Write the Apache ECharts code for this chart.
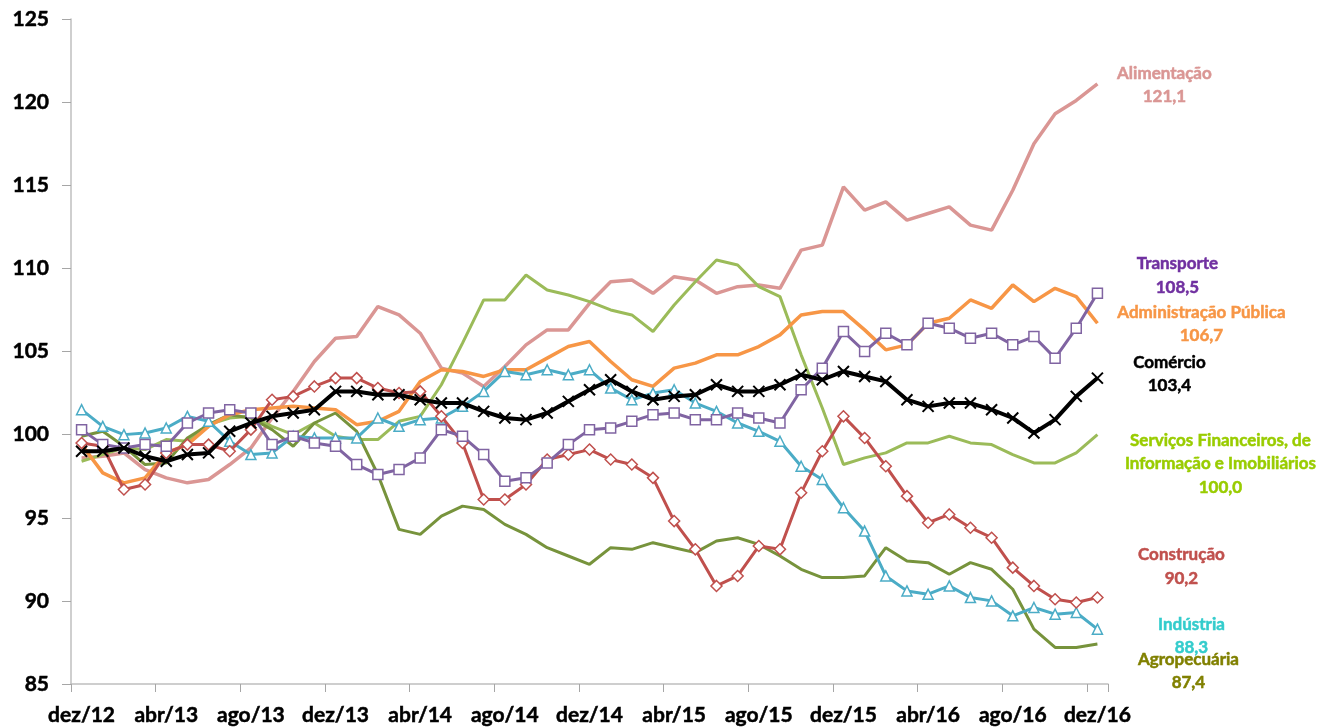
<!DOCTYPE html>
<html>
<head>
<meta charset="utf-8">
<script src="https://cdn.jsdelivr.net/npm/echarts@6/dist/echarts.min.js"></script>
<style>
  html, body { margin: 0; padding: 0; background: #fff; }
  #chart { width: 1328px; height: 728px; }
</style>
</head>
<body>
<div id="chart"></div>
<script>
// Monthly index (dez/12 = 100 basis), dez/12 .. dez/16
const months = ['jan','fev','mar','abr','mai','jun','jul','ago','set','out','nov','dez'];
const categories = ['dez/12'];
for (let y = 13; y <= 16; y++) {
  for (let m = 0; m < 12; m++) categories.push(months[m] + '/' + y);
}

const alimentacao = [98.6,98.7,98.9,97.9,97.4,97.1,97.3,98.2,99.2,101.0,102.6,104.4,105.8,105.9,107.7,107.2,106.1,104.0,103.7,102.9,104.1,105.4,106.3,106.3,107.9,109.2,109.3,108.5,109.5,109.3,108.5,108.9,109.0,108.8,111.1,111.4,114.9,113.5,114.0,112.9,113.3,113.7,112.6,112.3,114.7,117.5,119.3,120.1,121.1];
const transporte = [100.3,99.4,99.2,99.4,99.3,100.7,101.3,101.5,101.3,99.4,99.9,99.5,99.3,98.2,97.6,97.9,98.6,100.3,99.9,98.8,97.2,97.4,98.3,99.4,100.3,100.4,100.8,101.2,101.3,100.9,100.9,101.3,101.0,100.7,102.7,104.0,106.2,105.0,106.1,105.4,106.7,106.4,105.8,106.1,105.4,105.9,104.6,106.4,108.5];
const administracao = [99.4,97.7,97.1,97.4,98.9,99.4,100.5,101.2,101.5,101.6,101.7,101.6,101.5,100.6,100.8,101.4,103.2,103.9,103.8,103.5,103.9,103.9,104.6,105.3,105.6,104.4,103.3,102.9,104.0,104.3,104.8,104.8,105.3,106.0,107.2,107.4,107.4,106.3,105.1,105.4,106.7,107.0,108.1,107.6,109.0,108.0,108.8,108.3,106.7];
const comercio = [99.0,99.0,99.2,98.7,98.4,98.8,98.9,100.2,100.7,101.1,101.3,101.5,102.6,102.6,102.4,102.4,102.1,101.9,101.9,101.4,101.0,100.9,101.3,102.0,102.7,103.3,102.6,102.1,102.3,102.4,103.0,102.6,102.6,103.0,103.6,103.3,103.8,103.5,103.2,102.1,101.7,101.9,101.9,101.5,101.0,100.1,100.9,102.3,103.4];
const servicos = [98.4,98.8,99.2,99.1,99.7,99.6,100.6,101.0,101.1,100.5,100.0,100.7,99.9,99.7,99.7,100.8,101.1,103.0,105.5,108.1,108.1,109.6,108.7,108.4,108.0,107.5,107.2,106.2,107.8,109.2,110.5,110.2,108.9,108.3,104.8,101.6,98.2,98.6,98.9,99.5,99.5,99.9,99.5,99.4,98.8,98.3,98.3,98.9,100.0];
const construcao = [99.5,99.3,96.7,97.0,98.9,99.4,99.4,99.0,100.3,102.1,102.3,102.9,103.4,103.4,102.8,102.5,102.6,101.1,99.5,96.1,96.1,97.0,98.5,98.8,99.1,98.5,98.2,97.4,94.8,93.1,90.9,91.5,93.3,93.1,96.5,99.0,101.1,99.8,98.1,96.3,94.7,95.2,94.4,93.8,92.0,90.9,90.1,89.9,90.2];
const industria = [101.5,100.5,100.0,100.1,100.4,101.1,100.8,99.6,98.8,98.9,99.9,99.8,99.8,99.8,101.0,100.5,100.9,101.0,101.7,102.6,103.8,103.6,103.9,103.6,103.9,102.8,102.1,102.5,102.7,101.9,101.4,100.7,100.2,99.6,98.1,97.3,95.6,94.2,91.5,90.6,90.4,90.9,90.2,90.0,89.1,89.6,89.2,89.3,88.3];
const agropecuaria = [99.9,100.2,99.3,98.2,98.3,99.8,100.6,101.2,101.0,100.3,99.3,100.7,101.3,100.2,97.6,94.3,94.0,95.1,95.7,95.5,94.6,94.0,93.2,92.7,92.2,93.2,93.1,93.5,93.2,92.9,93.6,93.8,93.4,92.7,91.9,91.4,91.4,91.5,93.2,92.4,92.3,91.6,92.3,91.9,90.7,88.3,87.2,87.2,87.4];

const yTicks = { min: 85, max: 125, step: 5 };

const FONT = 'Lato, "Noto Sans", sans-serif';
const crossPath = 'path://M0,0L10,10M10,0L0,10';

function fmt(v) { return v.toFixed(1).replace('.', ','); }

// end-of-line annotation: name and final value, placed beside the last point
function endNote(name, data, color, dx, dy) {
  const last = data.length - 1;
  return {
    symbol: 'circle',
    symbolSize: 1,
    itemStyle: { color: 'rgba(0,0,0,0)' },
    silent: true,
    data: [{ coord: [last, data[last]], value: data[last] }],
    label: {
      show: true,
      position: 'inside',
      offset: [dx, dy],
      formatter: name + '\n' + fmt(data[last]),
      color: color,
      textBorderColor: color,
      textBorderWidth: 0.5,
      fontFamily: FONT,
      fontWeight: 'bold',
      fontSize: 17,
      lineHeight: 23.5,
      align: 'center',
      verticalAlign: 'middle'
    }
  };
}

function lineSeries(opts) {
  return {
    type: 'line',
    name: opts.name,
    data: opts.data,
    smooth: false,
    showSymbol: !!opts.symbol,
    symbol: opts.symbol || 'none',
    symbolSize: opts.symbolSize || 9,
    lineStyle: { color: opts.color, width: opts.width || 3 },
    itemStyle: opts.symbol === crossPath
      ? { color: opts.color, borderColor: opts.color, borderWidth: 2 }
      : { color: '#ffffff', borderColor: opts.color, borderWidth: 1.5 },
    z: opts.z || 2,
    animation: false,
    markPoint: endNote(opts.label, opts.data, opts.textColor, opts.dx, opts.dy)
  };
}

const axisText = {
  color: '#000',
  textBorderColor: '#000',
  textBorderWidth: 0.5,
  fontFamily: FONT,
  fontWeight: 'bold',
  fontSize: 21
};

const chart = echarts.init(document.getElementById('chart'), null, { renderer: 'canvas' });

chart.setOption({
  backgroundColor: '#ffffff',
  animation: false,
  grid: { left: 71, right: 220, top: 19, bottom: 44, containLabel: false },
  xAxis: {
    type: 'category',
    data: categories,
    boundaryGap: true,
    axisLine: { lineStyle: { color: '#BFBFBF', width: 1.5 } },
    axisTick: { show: true, interval: 3, length: 8, lineStyle: { color: '#A6A6A6', width: 1 } },
    axisLabel: Object.assign({ interval: 3, margin: 21 }, axisText),
    splitLine: { show: false }
  },
  yAxis: {
    type: 'value',
    min: yTicks.min,
    max: yTicks.max,
    interval: yTicks.step,
    axisLine: { show: true, lineStyle: { color: '#BFBFBF', width: 1.5 } },
    axisTick: { show: true, length: 9, lineStyle: { color: '#A6A6A6', width: 1 } },
    axisLabel: Object.assign({ margin: 22 }, axisText),
    splitLine: { show: false }
  },
  series: [
    lineSeries({ name: 'Alimentação', label: 'Alimentação', data: alimentacao, color: '#DA9694', textColor: '#DA9694', width: 3.5, dx: 67, dy: 1, z: 2 }),
    lineSeries({ name: 'Serviços', label: 'Serviços Financeiros, de\nInformação e Imobiliários', data: servicos, color: '#9BBB59', textColor: '#99CC00', width: 3, dx: 123, dy: 29, z: 2 }),
    lineSeries({ name: 'Agropecuária', label: 'Agropecuária', data: agropecuaria, color: '#77933C', textColor: '#808000', width: 3, dx: 91, dy: 27, z: 2 }),
    lineSeries({ name: 'Administração Pública', label: 'Administração Pública', data: administracao, color: '#F79646', textColor: '#F79646', width: 3.5, dx: 104, dy: 1, z: 3 }),
    lineSeries({ name: 'Indústria', label: 'Indústria', data: industria, color: '#4BACC6', textColor: '#33CCCC', width: 3, symbol: 'triangle', symbolSize: 10, dx: 94, dy: 7, z: 3 }),
    lineSeries({ name: 'Construção', label: 'Construção', data: construcao, color: '#C0504D', textColor: '#C0504D', width: 3, symbol: 'diamond', symbolSize: 11, dx: 84, dy: -31, z: 4 }),
    lineSeries({ name: 'Transporte', label: 'Transporte', data: transporte, color: '#8064A2', textColor: '#7030A0', width: 3, symbol: 'rect', symbolSize: 10, dx: 80, dy: -18, z: 4 }),
    lineSeries({ name: 'Comércio', label: 'Comércio', data: comercio, color: '#000000', textColor: '#000000', width: 4, symbol: crossPath, symbolSize: 11, dx: 72, dy: -4, z: 5 })
  ]
});
</script>
</body>
</html>
